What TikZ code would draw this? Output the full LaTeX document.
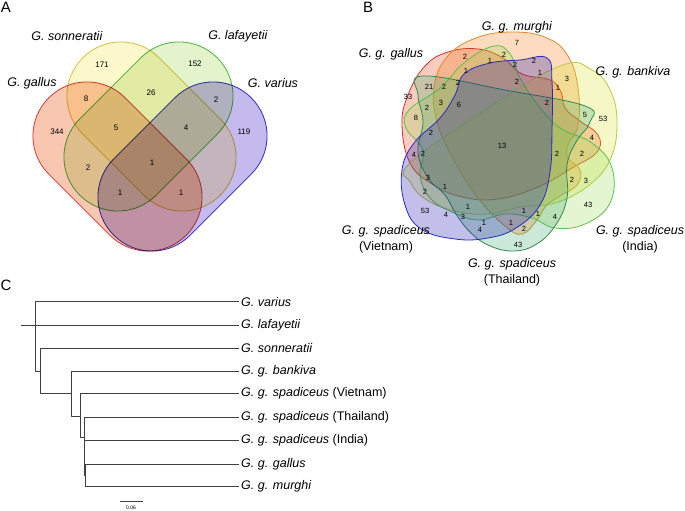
\documentclass[tikz,border=0pt]{standalone}
\usepackage{fontspec}
\setmainfont{Liberation Sans}

\definecolor{galA}{HTML}{F9C7B0}\definecolor{galAline}{HTML}{D84040}
\definecolor{sonA}{HTML}{FDF7CC}\definecolor{sonAline}{HTML}{D6C548}
\definecolor{lafA}{HTML}{E3F3CC}\definecolor{lafAline}{HTML}{4DBB45}
\definecolor{varA}{HTML}{C5BAEE}\definecolor{varAline}{HTML}{3535C8}
\definecolor{galB}{HTML}{EB3300}\definecolor{galBline}{HTML}{D03030}
\definecolor{murB}{HTML}{F57000}\definecolor{murBline}{HTML}{DD8A2A}
\definecolor{banB}{HTML}{D6E01F}\definecolor{banBline}{HTML}{B9C93A}
\definecolor{indB}{HTML}{8FD647}\definecolor{indBline}{HTML}{5CC24A}
\definecolor{thaB}{HTML}{33A366}\definecolor{thaBline}{HTML}{2E8B57}
\definecolor{vieB}{HTML}{0A00AD}\definecolor{vieBline}{HTML}{2A2AC0}

\begin{document}
\begin{tikzpicture}
            [x=1pt, y=-1pt, line join=round,
             setline/.style={line width=0.8pt},
             setB/.style={line width=0.8pt, fill opacity=0.25},
             num/.style={font=\fontsize{8}{9}\selectfont, inner sep=0pt},
             numB/.style={font=\fontsize{7.5}{9}\selectfont, inner sep=0pt},
             lbl/.style={font=\fontsize{12.5}{16}\selectfont, align=center, inner sep=0pt},
             panel/.style={font=\fontsize{15}{16}\selectfont, inner sep=0pt},
             tip/.style={font=\fontsize{12.5}{15}\selectfont, anchor=west, inner sep=2.5pt},
             branch/.style={draw=black!75, line width=0.9pt}]
            \useasboundingbox (0,0) rectangle (685,511);

            \node[panel] (pA) at (6,7) {A};
            \node[panel] (pB) at (368,7) {B};
            \node[panel] (pC) at (6,285) {C};

            \begin{scope}[blend mode=multiply]
                \begin{scope}[shift={(117.5,166.5)}, rotate=-45]
                    \draw[setline, fill=galA, draw=galAline, rounded corners=53.9] (-97.2,-54) rectangle (97.2,54);
                \end{scope}
                \begin{scope}[shift={(151.5,126.5)}, rotate=-45]
                    \draw[setline, fill=sonA, draw=sonAline, rounded corners=53.9] (-97.2,-54) rectangle (97.2,54);
                \end{scope}
                \begin{scope}[shift={(148.5,126.5)}, rotate=45]
                    \draw[setline, fill=lafA, draw=lafAline, rounded corners=53.9] (-97.2,-54) rectangle (97.2,54);
                \end{scope}
                \begin{scope}[shift={(182.5,166.5)}, rotate=45]
                    \draw[setline, fill=varA, draw=varAline, rounded corners=53.9] (-97.2,-54) rectangle (97.2,54);
                \end{scope}
            \end{scope}

            \draw[setB, fill=galB, draw=galBline] plot[smooth cycle, tension=0.7] coordinates
                {(402,125) (408,95) (425,66) (448,52) (478,49) (503,58) (522,74) (550,80) (561,92) (565,108) (580,121) (598,135) (597,152) (572,168) (538,187) (498,199) (462,197) (432,184) (410,163)};
            \draw[setB, fill=murB, draw=murBline] plot[smooth cycle, tension=0.7] coordinates
                {(513,32) (547,38) (568,56) (578,88) (578,125) (568,145) (568,158) (580,170) (577,185) (560,196) (546,206) (537,220) (522,234) (505,226) (478,198) (455,162) (438,125) (434,88) (447,57) (476,38)};
            \draw[setB, fill=banB, draw=banBline] plot[smooth cycle, tension=0.7] coordinates
                {(410,163) (485,110) (560,66) (592,70) (611,92) (617,125) (610,160) (588,186) (555,203) (520,207) (488,214) (455,211) (427,200) (411,183)};
            \draw[setB, fill=indB, draw=indBline] plot[smooth cycle, tension=0.7] coordinates
                {(494,46) (510,54) (520,78) (538,105) (560,128) (592,143) (612,168) (610,203) (585,224) (555,228) (532,218) (505,214) (478,220) (452,212) (430,198) (420,175) (423,150) (406,128) (409,110) (440,88) (465,62)};
            \draw[setB, fill=thaB, draw=thaBline] plot[smooth cycle, tension=0.7] coordinates
                {(423,76) (505,90) (585,106) (590,122) (576,142) (567,165) (567,198) (555,226) (535,245) (512,251) (488,245) (470,232) (456,214) (445,195) (428,178) (418,152) (423,122) (418,95)};
            \draw[setB, fill=vieB, draw=vieBline] plot[smooth cycle, tension=0.7] coordinates
                {(520,60) (547,58) (552,82) (552,130) (550,172) (540,205) (516,228) (488,238) (455,239) (421,229) (405,205) (402,170) (414,143) (440,118) (455,95) (464,74) (490,63)};

            \node[lbl] (lSon) at (67,36) {\textit{G. sonneratii}};
            \node[lbl] (lLaf) at (238,36) {\textit{G. lafayetii}};
            \node[lbl] (lGal) at (32,83) {\textit{G. gallus}};
            \node[lbl] (lVar) at (273,83) {\textit{G. varius}};

            \foreach \x/\y/\v [count=\i] in {102/65/171, 195/64/152, 86/99/8, 151/93/26, 216/100/2, 57/132/344, 116/128/5, 186/128/4, 244/132/119, 88/168/2, 152/163/1, 120/193/1, 181/193/1}
                \node[num] (a\i) at (\x,\y) {\v};

            \node[lbl] (lMur) at (517,27) {\textit{G. g. murghi}};
            \node[lbl] (lGgal) at (391,54) {\textit{G. g. gallus}};
            \node[lbl] (lBan) at (633,72) {\textit{G. g. bankiva}};
            \node[lbl] (lVie) at (386,239) {\textit{G. g. spadiceus}\\(Vietnam)};
            \node[lbl] (lInd) at (640,239) {\textit{G. g. spadiceus}\\(India)};
            \node[lbl] (lTha) at (512,272) {\textit{G. g. spadiceus}\\(Thailand)};

            \foreach \x/\y/\v [count=\i] in {517/43/7, 465/57/2, 490/61/1, 504/55/2, 515/65/2, 534/61/2, 466/71/1, 540/73/1, 567/79/3, 558/88/1, 517/82/2, 429/87/21, 444/87/2, 458/83/2, 408/97/33, 441/103/3, 459/105/6, 427/108/2, 547/103/2, 416/118/8, 585/115/5, 603/119/53, 431/133/2, 502/146/13, 592/138/4, 414/155/4, 423/154/2, 557/154/2, 582/154/2, 428/178/3, 445/187/1, 572/180/2, 586/181/3, 425/192/2, 588/205/43, 425/211/53, 468/207/1, 524/211/1, 538/214/1, 446/215/4, 463/217/3, 555/217/4, 484/223/1, 511/223/1, 480/230/4, 524/229/2, 518/245/43}
                \node[numB] (b\i) at (\x,\y) {\v};

            \node[tip] (tVar) at (238.5,301.7) {\textit{G. varius}};
            \node[tip] (tLaf) at (238.5,325) {\textit{G. lafayetii}};
            \node[tip] (tSon) at (238.5,348.3) {\textit{G. sonneratii}};
            \node[tip] (tBan) at (238.5,371) {\textit{G. g. bankiva}};
            \node[tip] (tVie) at (238.5,393.7) {\textit{G. g. spadiceus} (Vietnam)};
            \node[tip] (tTha) at (238.5,417.7) {\textit{G. g. spadiceus} (Thailand)};
            \node[tip] (tInd) at (238.5,440.7) {\textit{G. g. spadiceus} (India)};
            \node[tip] (tGal) at (238.5,464) {\textit{G. g. gallus}};
            \node[tip] (tMur) at (238.5,486.7) {\textit{G. g. murghi}};

            \coordinate (root) at (20.7,325);
            \coordinate (k1) at (35.7,371);
            \coordinate (k2) at (40.7,393.3);
            \coordinate (k3) at (71.7,416);
            \coordinate (k4) at (80,437.7);
            \coordinate (k5) at (84.7,475);
            \coordinate (k6) at (85.7,486.7);

            \draw[branch] (root) -- (tLaf.west);
            \draw[branch] (tVar.west) -| (k1) -- (k1 -| k2);
            \draw[branch] (tSon.west) -| (k2) -- (k2 -| k3);
            \draw[branch] (tBan.west) -| (k3) -- (k3 -| k4);
            \draw[branch] (tVie.west) -| (k4) -- (k4 -| k5);
            \draw[branch] (tTha.west) -| (k5) -- (k5 -| k6);
            \draw[branch] (tGal.west) -| (k6) -- (tMur.west);
            \draw[branch] (tInd.west) -- (tInd.west -| k5);

            \coordinate (sb1) at (119.7,501.7);
            \coordinate (sb2) at (142.8,501.7);
            \draw[branch, line width=0.7pt] (sb1) -- (sb2);
            \node[font=\fontsize{5}{6}\selectfont, inner sep=0pt] (sbl) at (131,508) {0.06};
\end{tikzpicture}
\end{document}
